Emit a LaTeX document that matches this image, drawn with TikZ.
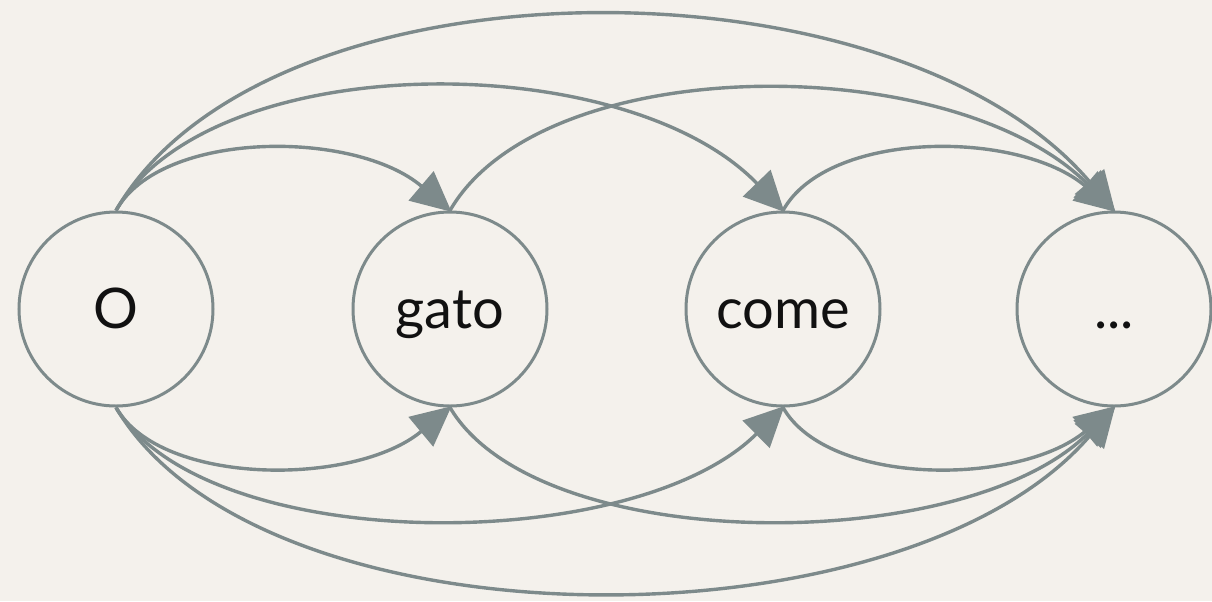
\documentclass[tikz,border=0pt]{standalone}
\usepackage{fontspec}
\setmainfont{Lato}
\usetikzlibrary{arrows.meta}
\definecolor{bg}{HTML}{F4F1EC}
\definecolor{edge}{HTML}{7D8A8B}
\definecolor{txt}{HTML}{111111}
\tikzset{
  word/.style={circle, draw=edge, line width=1.5pt, minimum size=97pt, inner sep=0pt,
    text=txt, font=\fontsize{28pt}{34pt}\selectfont, text height=22pt, text depth=3pt},
  link/.style={draw=edge, line width=1.7pt,
    -{Triangle[length=20pt,width=19pt]}, shorten >=-1pt},
}
\begin{document}
\begin{tikzpicture}[x=0.5pt,y=-0.5pt]
\useasboundingbox[fill=bg] (0,0) rectangle (1212,601);
\node[word] (o) at (116,309) {O};
\node[word] (gato) at (450,309) {gato};
\node[word] (come) at (783,309) {come};
\node[word] (dots) at (1114,309) {...};
% top arcs
\draw[link] (o.north) .. controls +(45,-81) and +(-95,-81) .. (gato.north);
\draw[link] (o.north) .. controls +(95,-164) and +(-158,-164) .. (come.north);
\draw[link] (o.north) .. controls +(150,-259) and +(-220,-259) .. (dots.north);
\draw[link] (gato.north) .. controls +(93,-161) and +(-161,-161) .. (dots.north);
\draw[link] (come.north) .. controls +(45,-81) and +(-95,-81) .. (dots.north);
% bottom arcs
\draw[link] (o.south) .. controls +(45,79) and +(-95,79) .. (gato.south);
\draw[link] (o.south) .. controls +(90,149) and +(-150,149) .. (come.south);
\draw[link] (o.south) .. controls +(145,245) and +(-210,245) .. (dots.south);
\draw[link] (gato.south) .. controls +(88,149) and +(-150,149) .. (dots.south);
\draw[link] (come.south) .. controls +(45,79) and +(-95,79) .. (dots.south);
\end{tikzpicture}
\end{document}
